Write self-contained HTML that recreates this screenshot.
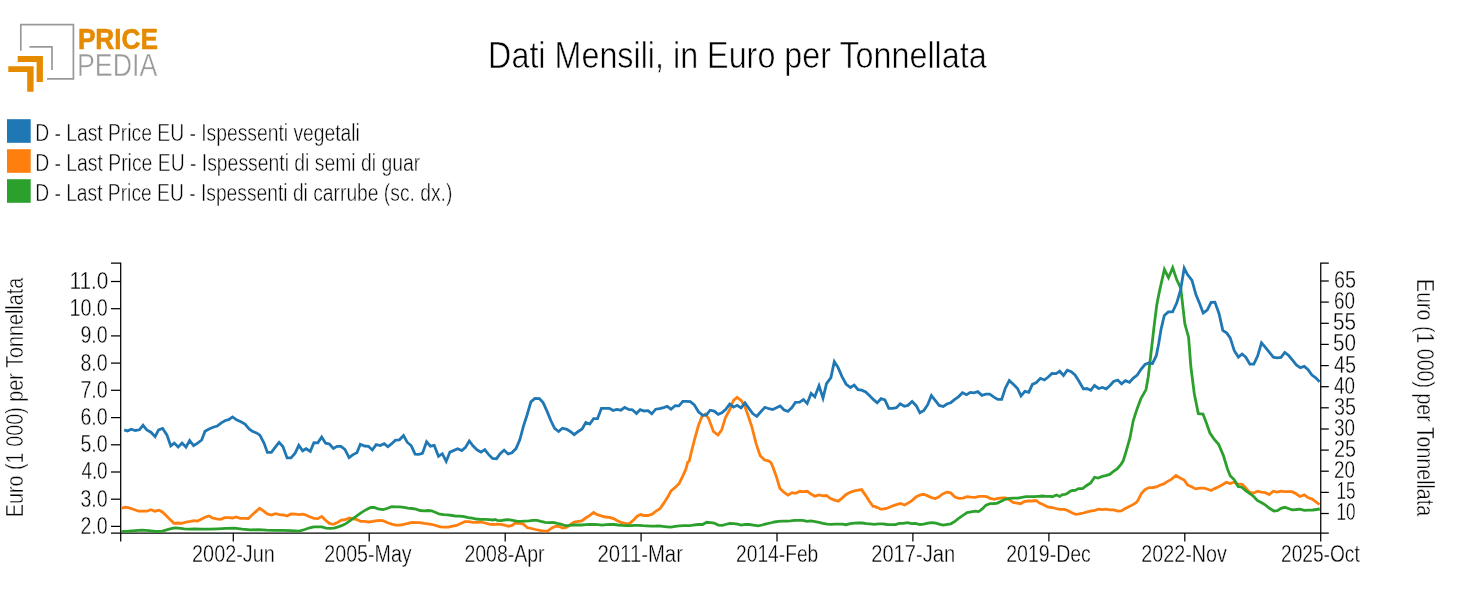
<!DOCTYPE html><html><head><meta charset="utf-8"><style>html,body{margin:0;padding:0;background:#fff;overflow:hidden;}svg{display:block;will-change:transform;}text{font-family:"Liberation Sans",sans-serif;}</style></head><body>
<svg width="1477" height="615" viewBox="0 0 1477 615">
<rect width="1477" height="615" fill="#fff"/>
<path d="M20.8,50.7 V24.7 H73.4 V78.8 H47" fill="none" stroke="#999999" stroke-width="1.7"/>
<path d="M29.4,46.8 H52 V69.9" fill="none" stroke="#999999" stroke-width="1.7"/>
<path d="M17.7,56 H42.9 V82 H36.6 V62 H17.7 Z" fill="#e68a00"/>
<path d="M8.3,66.2 H33.6 V91.7 H27.2 V72 H8.3 Z" fill="#e68a00"/>
<rect x="7" y="119.2" width="23.7" height="23.6" fill="#1f77b4"/>
<rect x="7" y="149.2" width="23.7" height="23.6" fill="#ff7f0e"/>
<rect x="7" y="179.2" width="23.7" height="23.6" fill="#2ca02c"/>
<text id="PRICE" x="77.90" y="49.0" font-size="29.3" font-weight="bold" fill="#e68a00" stroke="#e68a00" stroke-width="0.6" stroke-linejoin="round" textLength="80.11" lengthAdjust="spacingAndGlyphs">PRICE</text>
<text id="PEDIA" x="76.90" y="75.5" font-size="30.5" font-weight="normal" fill="#9a9a9a" stroke="#fff" stroke-width="0.4" stroke-linejoin="round" textLength="80.43" lengthAdjust="spacingAndGlyphs">PEDIA</text>
<text id="title" x="488.10" y="67.9" font-size="37.6" font-weight="normal" fill="#000" stroke="#fff" stroke-width="0.6" stroke-linejoin="round" textLength="498.58" lengthAdjust="spacingAndGlyphs">Dati Mensili, in Euro per Tonnellata</text>
<text id="leg0" x="35.15" y="141.2" font-size="23.0" font-weight="normal" fill="#000" stroke="#fff" stroke-width="0.45" stroke-linejoin="round" textLength="324.73" lengthAdjust="spacingAndGlyphs">D - Last Price EU - Ispessenti vegetali</text>
<text id="leg1" x="35.15" y="171.2" font-size="23.0" font-weight="normal" fill="#000" stroke="#fff" stroke-width="0.45" stroke-linejoin="round" textLength="385.01" lengthAdjust="spacingAndGlyphs">D - Last Price EU - Ispessenti di semi di guar</text>
<text id="leg2" x="35.15" y="201.2" font-size="23.0" font-weight="normal" fill="#000" stroke="#fff" stroke-width="0.45" stroke-linejoin="round" textLength="417.16" lengthAdjust="spacingAndGlyphs">D - Last Price EU - Ispessenti di carrube (sc. dx.)</text>
<text id="yl2" x="80.40" y="533.8" font-size="23.0" font-weight="normal" fill="#000" stroke="#fff" stroke-width="0.35" stroke-linejoin="round" textLength="27.23" lengthAdjust="spacingAndGlyphs">2.0</text>
<text id="yl3" x="80.40" y="506.6" font-size="23.0" font-weight="normal" fill="#000" stroke="#fff" stroke-width="0.35" stroke-linejoin="round" textLength="27.23" lengthAdjust="spacingAndGlyphs">3.0</text>
<text id="yl4" x="81.40" y="479.4" font-size="23.0" font-weight="normal" fill="#000" stroke="#fff" stroke-width="0.35" stroke-linejoin="round" textLength="26.23" lengthAdjust="spacingAndGlyphs">4.0</text>
<text id="yl5" x="80.40" y="452.2" font-size="23.0" font-weight="normal" fill="#000" stroke="#fff" stroke-width="0.35" stroke-linejoin="round" textLength="27.23" lengthAdjust="spacingAndGlyphs">5.0</text>
<text id="yl6" x="80.40" y="425.0" font-size="23.0" font-weight="normal" fill="#000" stroke="#fff" stroke-width="0.35" stroke-linejoin="round" textLength="27.23" lengthAdjust="spacingAndGlyphs">6.0</text>
<text id="yl7" x="80.40" y="397.7" font-size="23.0" font-weight="normal" fill="#000" stroke="#fff" stroke-width="0.35" stroke-linejoin="round" textLength="27.23" lengthAdjust="spacingAndGlyphs">7.0</text>
<text id="yl8" x="80.40" y="370.5" font-size="23.0" font-weight="normal" fill="#000" stroke="#fff" stroke-width="0.35" stroke-linejoin="round" textLength="27.23" lengthAdjust="spacingAndGlyphs">8.0</text>
<text id="yl9" x="80.40" y="343.3" font-size="23.0" font-weight="normal" fill="#000" stroke="#fff" stroke-width="0.35" stroke-linejoin="round" textLength="27.23" lengthAdjust="spacingAndGlyphs">9.0</text>
<text id="yl10" x="69.40" y="316.1" font-size="23.0" font-weight="normal" fill="#000" stroke="#fff" stroke-width="0.35" stroke-linejoin="round" textLength="38.45" lengthAdjust="spacingAndGlyphs">10.0</text>
<text id="yl11" x="69.40" y="288.9" font-size="23.0" font-weight="normal" fill="#000" stroke="#fff" stroke-width="0.35" stroke-linejoin="round" textLength="38.95" lengthAdjust="spacingAndGlyphs">11.0</text>
<text id="yr10" x="1336.60" y="520.4" font-size="23.0" font-weight="normal" fill="#000" stroke="#fff" stroke-width="0.35" stroke-linejoin="round" textLength="19.03" lengthAdjust="spacingAndGlyphs">10</text>
<text id="yr15" x="1336.60" y="499.3" font-size="23.0" font-weight="normal" fill="#000" stroke="#fff" stroke-width="0.35" stroke-linejoin="round" textLength="19.03" lengthAdjust="spacingAndGlyphs">15</text>
<text id="yr20" x="1334.10" y="478.1" font-size="23.0" font-weight="normal" fill="#000" stroke="#fff" stroke-width="0.35" stroke-linejoin="round" textLength="21.03" lengthAdjust="spacingAndGlyphs">20</text>
<text id="yr25" x="1334.10" y="457.0" font-size="23.0" font-weight="normal" fill="#000" stroke="#fff" stroke-width="0.35" stroke-linejoin="round" textLength="22.03" lengthAdjust="spacingAndGlyphs">25</text>
<text id="yr30" x="1334.10" y="435.9" font-size="23.0" font-weight="normal" fill="#000" stroke="#fff" stroke-width="0.35" stroke-linejoin="round" textLength="21.03" lengthAdjust="spacingAndGlyphs">30</text>
<text id="yr35" x="1334.10" y="414.7" font-size="23.0" font-weight="normal" fill="#000" stroke="#fff" stroke-width="0.35" stroke-linejoin="round" textLength="22.03" lengthAdjust="spacingAndGlyphs">35</text>
<text id="yr40" x="1334.10" y="393.6" font-size="23.0" font-weight="normal" fill="#000" stroke="#fff" stroke-width="0.35" stroke-linejoin="round" textLength="21.03" lengthAdjust="spacingAndGlyphs">40</text>
<text id="yr45" x="1334.10" y="372.5" font-size="23.0" font-weight="normal" fill="#000" stroke="#fff" stroke-width="0.35" stroke-linejoin="round" textLength="22.03" lengthAdjust="spacingAndGlyphs">45</text>
<text id="yr50" x="1333.10" y="351.3" font-size="23.0" font-weight="normal" fill="#000" stroke="#fff" stroke-width="0.35" stroke-linejoin="round" textLength="23.03" lengthAdjust="spacingAndGlyphs">50</text>
<text id="yr55" x="1333.10" y="330.2" font-size="23.0" font-weight="normal" fill="#000" stroke="#fff" stroke-width="0.35" stroke-linejoin="round" textLength="23.03" lengthAdjust="spacingAndGlyphs">55</text>
<text id="yr60" x="1334.10" y="309.0" font-size="23.0" font-weight="normal" fill="#000" stroke="#fff" stroke-width="0.35" stroke-linejoin="round" textLength="21.03" lengthAdjust="spacingAndGlyphs">60</text>
<text id="yr65" x="1334.10" y="287.9" font-size="23.0" font-weight="normal" fill="#000" stroke="#fff" stroke-width="0.35" stroke-linejoin="round" textLength="22.03" lengthAdjust="spacingAndGlyphs">65</text>
<text id="x2002-Jun" x="192.10" y="561.8" font-size="23.0" font-weight="normal" fill="#000" stroke="#fff" stroke-width="0.35" stroke-linejoin="round" textLength="82.71" lengthAdjust="spacingAndGlyphs">2002-Jun</text>
<text id="x2005-May" x="324.30" y="561.8" font-size="23.0" font-weight="normal" fill="#000" stroke="#fff" stroke-width="0.35" stroke-linejoin="round" textLength="87.33" lengthAdjust="spacingAndGlyphs">2005-May</text>
<text id="x2008-Apr" x="464.40" y="561.8" font-size="23.0" font-weight="normal" fill="#000" stroke="#fff" stroke-width="0.35" stroke-linejoin="round" textLength="80.17" lengthAdjust="spacingAndGlyphs">2008-Apr</text>
<text id="x2011-Mar" x="597.50" y="561.8" font-size="23.0" font-weight="normal" fill="#000" stroke="#fff" stroke-width="0.35" stroke-linejoin="round" textLength="85.43" lengthAdjust="spacingAndGlyphs">2011-Mar</text>
<text id="x2014-Feb" x="736.10" y="561.8" font-size="23.0" font-weight="normal" fill="#000" stroke="#fff" stroke-width="0.35" stroke-linejoin="round" textLength="82.16" lengthAdjust="spacingAndGlyphs">2014-Feb</text>
<text id="x2017-Jan" x="871.20" y="561.8" font-size="23.0" font-weight="normal" fill="#000" stroke="#fff" stroke-width="0.35" stroke-linejoin="round" textLength="83.91" lengthAdjust="spacingAndGlyphs">2017-Jan</text>
<text id="x2019-Dec" x="1006.20" y="561.8" font-size="23.0" font-weight="normal" fill="#000" stroke="#fff" stroke-width="0.35" stroke-linejoin="round" textLength="84.68" lengthAdjust="spacingAndGlyphs">2019-Dec</text>
<text id="x2022-Nov" x="1141.30" y="561.8" font-size="23.0" font-weight="normal" fill="#000" stroke="#fff" stroke-width="0.35" stroke-linejoin="round" textLength="85.48" lengthAdjust="spacingAndGlyphs">2022-Nov</text>
<text id="x2025-Oct" x="1281.00" y="561.8" font-size="23.0" font-weight="normal" fill="#000" stroke="#fff" stroke-width="0.35" stroke-linejoin="round" textLength="78.77" lengthAdjust="spacingAndGlyphs">2025-Oct</text>
<g stroke="#000" stroke-width="1.25" fill="none">
<path d="M111,263 H120.7 V533.1 H111"/>
<path d="M1328.8,263 H1320.75 V533.1 H1328.8"/>
<path d="M120.7,533.1 H1320.75"/>
<path d="M111,526.4 H120.7"/>
<path d="M111,499.2 H120.7"/>
<path d="M111,472.0 H120.7"/>
<path d="M111,444.8 H120.7"/>
<path d="M111,417.6 H120.7"/>
<path d="M111,390.3 H120.7"/>
<path d="M111,363.1 H120.7"/>
<path d="M111,335.9 H120.7"/>
<path d="M111,308.7 H120.7"/>
<path d="M111,281.5 H120.7"/>
<path d="M1320.75,513.5 H1328.8"/>
<path d="M1320.75,492.4 H1328.8"/>
<path d="M1320.75,471.2 H1328.8"/>
<path d="M1320.75,450.1 H1328.8"/>
<path d="M1320.75,429.0 H1328.8"/>
<path d="M1320.75,407.8 H1328.8"/>
<path d="M1320.75,386.7 H1328.8"/>
<path d="M1320.75,365.6 H1328.8"/>
<path d="M1320.75,344.4 H1328.8"/>
<path d="M1320.75,323.3 H1328.8"/>
<path d="M1320.75,302.1 H1328.8"/>
<path d="M1320.75,281.0 H1328.8"/>
<path d="M120.7,533 V541.6"/>
<path d="M233.3,533 V541.6"/>
<path d="M369.2,533 V541.6"/>
<path d="M505.2,533 V541.6"/>
<path d="M641.1,533 V541.6"/>
<path d="M777.0,533 V541.6"/>
<path d="M912.9,533 V541.6"/>
<path d="M1048.9,533 V541.6"/>
<path d="M1184.8,533 V541.6"/>
<path d="M1320.7,533 V541.6"/>
</g>
<g font-size="23" fill="#000" stroke="#fff" stroke-width="0.45" stroke-linejoin="round">
<text transform="translate(23.3,397.5) rotate(-90)" text-anchor="middle" textLength="239.6" lengthAdjust="spacingAndGlyphs">Euro (1 000) per Tonnellata</text>
<text transform="translate(1416.7,397.6) rotate(90)" text-anchor="middle" textLength="237.0" lengthAdjust="spacingAndGlyphs">Euro (1 000) per Tonnellata</text>
</g>
<path d="M121.4,508.1 L125.8,507.1 L129.9,508.1 L134.6,509.8 L138.7,511.2 L142.8,511.2 L146.8,511.2 L150.9,509.8 L154.9,511.2 L159.0,510.2 L162.4,511.9 L165.8,515.3 L169.8,519.3 L173.9,523.3 L178.0,523.0 L182.0,523.4 L186.1,522.0 L190.2,521.4 L194.2,520.7 L197.6,521.1 L201.7,518.9 L205.5,517.0 L209.1,516.0 L212.5,518.0 L216.6,518.9 L220.6,519.3 L224.7,517.6 L228.7,517.6 L232.8,518.0 L236.2,517.0 L240.3,518.4 L244.3,518.4 L248.4,518.5 L251.8,515.3 L255.8,511.6 L259.6,508.3 L263.7,511.2 L267.3,513.9 L271.4,515.0 L275.5,513.6 L279.5,514.6 L283.6,515.0 L287.0,516.1 L291.0,513.9 L295.1,514.2 L299.2,514.6 L302.5,514.2 L305.4,514.8 L309.6,516.8 L314.0,518.4 L317.9,518.6 L321.7,516.4 L325.3,520.0 L329.4,523.4 L333.4,524.3 L337.5,522.4 L341.3,520.0 L345.4,519.7 L349.4,518.0 L353.5,518.9 L357.1,519.7 L360.8,521.4 L364.6,521.4 L368.6,522.0 L372.7,521.4 L376.8,520.7 L380.2,520.4 L383.5,520.9 L387.6,522.7 L391.7,524.1 L395.7,525.1 L399.8,525.1 L403.8,524.3 L407.9,523.4 L412.0,522.4 L416.0,522.7 L420.1,522.7 L424.2,523.4 L428.2,523.8 L432.3,524.5 L436.3,525.7 L440.4,526.8 L444.5,527.2 L448.5,527.2 L452.6,526.1 L456.7,525.4 L460.7,523.4 L464.8,521.6 L468.8,521.6 L472.9,522.3 L477.0,522.3 L481.0,522.0 L485.1,523.0 L489.2,524.1 L493.2,524.5 L495.0,524.3 L497.3,524.1 L500.9,524.3 L504.5,525.1 L508.5,526.4 L511.9,525.4 L515.3,523.0 L519.4,523.4 L523.4,524.1 L527.5,527.7 L531.6,528.5 L535.6,529.5 L539.7,530.4 L543.7,531.1 L547.8,530.8 L551.9,527.9 L555.9,526.1 L559.3,526.5 L562.7,528.1 L566.8,527.2 L570.2,524.7 L574.2,522.0 L578.3,521.4 L581.7,520.9 L585.7,518.0 L589.8,515.3 L593.6,512.5 L597.2,514.6 L601.3,515.9 L605.4,517.0 L609.4,517.3 L613.5,518.6 L617.5,520.7 L621.6,522.7 L625.7,523.7 L629.7,523.4 L633.8,519.7 L637.2,516.2 L640.6,514.6 L644.0,515.5 L648.0,515.5 L652.1,514.2 L656.1,511.2 L660.2,508.5 L664.3,502.4 L668.3,496.0 L671.0,490.9 L675.1,487.5 L679.2,483.4 L682.5,476.7 L685.9,469.2 L687.8,461.9 L689.2,461.1 L691.1,453.1 L694.5,439.6 L698.3,426.0 L701.9,416.6 L705.3,414.2 L708.7,418.6 L713.4,431.5 L717.9,435.1 L721.6,430.1 L725.6,417.2 L729.7,409.8 L733.5,400.3 L737.1,397.4 L740.9,400.3 L744.6,405.7 L748.0,415.2 L752.0,427.4 L756.1,443.6 L760.2,455.8 L764.6,460.0 L768.5,460.9 L771.0,462.6 L772.7,466.5 L776.4,476.7 L779.8,488.2 L783.8,492.2 L787.9,495.1 L792.0,492.7 L795.8,493.3 L799.8,491.3 L803.5,491.6 L807.3,491.3 L810.9,494.0 L815.0,496.2 L819.1,494.9 L823.1,495.9 L826.5,495.5 L830.6,498.6 L834.6,500.1 L838.3,501.2 L842.1,498.1 L846.1,494.5 L850.2,492.2 L854.3,490.9 L858.3,490.2 L861.6,489.6 L865.8,495.6 L869.2,501.0 L873.0,506.4 L875.0,506.3 L876.6,507.4 L878.4,507.8 L880.7,509.2 L882.4,509.2 L886.5,508.5 L890.6,506.7 L894.0,505.4 L897.3,504.4 L900.7,503.5 L904.5,505.0 L908.2,503.1 L912.2,500.4 L916.3,496.6 L920.4,494.9 L923.7,494.3 L927.8,495.9 L931.6,497.7 L935.3,498.6 L938.6,497.0 L942.7,493.9 L946.8,492.2 L950.8,492.9 L954.9,497.0 L959.0,498.3 L963.0,498.1 L967.1,496.6 L971.1,497.2 L975.2,497.4 L979.3,496.3 L983.3,496.3 L986.7,496.7 L990.1,498.3 L994.2,499.3 L998.2,498.3 L1002.3,497.9 L1005.7,497.9 L1009.1,499.7 L1013.1,502.4 L1017.2,503.1 L1020.6,503.7 L1024.0,501.7 L1028.0,501.0 L1032.1,501.0 L1036.1,500.5 L1039.5,503.1 L1043.6,504.7 L1047.6,506.9 L1051.7,507.5 L1055.8,508.5 L1059.8,509.4 L1064.5,509.4 L1068.2,510.8 L1071.9,512.8 L1075.6,514.3 L1079.2,513.9 L1083.3,513.0 L1087.3,511.9 L1091.4,510.9 L1094.8,510.3 L1098.6,509.2 L1102.2,509.6 L1105.6,509.2 L1109.7,509.9 L1113.7,509.9 L1117.8,511.2 L1121.2,510.9 L1125.3,508.5 L1129.3,506.5 L1133.4,504.4 L1136.8,502.1 L1138.8,498.7 L1141.5,493.3 L1144.9,489.7 L1149.0,487.6 L1153.0,487.5 L1156.4,487.0 L1159.8,485.2 L1163.8,483.9 L1167.2,481.6 L1171.3,479.4 L1176.0,475.5 L1180.1,478.0 L1184.2,480.1 L1187.5,484.9 L1191.6,486.8 L1195.7,488.9 L1199.7,488.2 L1203.8,488.2 L1207.2,489.0 L1211.0,490.5 L1214.6,488.6 L1218.7,486.8 L1222.8,484.5 L1226.4,482.3 L1230.2,483.5 L1233.6,482.3 L1237.6,483.9 L1242.1,484.3 L1245.8,487.9 L1249.2,492.0 L1253.2,493.2 L1257.6,491.2 L1261.4,492.2 L1265.2,492.7 L1269.3,494.6 L1273.2,491.2 L1276.8,492.1 L1281.1,491.1 L1284.8,491.7 L1288.4,491.7 L1292.1,491.7 L1295.7,493.5 L1300.0,496.5 L1304.3,494.9 L1307.9,497.6 L1312.2,499.1 L1315.9,501.8 L1319.5,504.5" fill="none" stroke="#ff7f0e" stroke-width="2.8" stroke-linejoin="miter" stroke-miterlimit="4" stroke-linecap="butt"/>
<path d="M121.4,531.4 L128.5,531.1 L135.3,530.6 L142.1,530.2 L148.9,530.6 L155.6,531.5 L162.4,531.1 L169.2,529.2 L174.6,527.9 L178.6,528.1 L184.1,528.8 L189.5,529.2 L194.9,528.8 L201.7,529.2 L209.8,529.1 L217.9,528.8 L226.0,528.4 L234.2,528.1 L242.3,529.1 L250.4,529.9 L258.5,529.7 L266.7,530.2 L274.8,530.4 L282.9,530.4 L291.0,530.6 L299.2,531.1 L304.8,529.5 L309.6,527.8 L313.8,526.8 L317.9,526.8 L321.9,526.8 L326.0,528.1 L330.1,528.4 L334.1,528.1 L338.2,526.8 L342.2,525.4 L346.3,523.4 L350.4,520.4 L354.4,517.6 L358.5,514.6 L362.5,511.9 L366.6,509.4 L370.7,507.5 L374.1,507.5 L378.1,508.8 L382.9,509.6 L386.9,508.5 L391.7,506.7 L395.7,506.9 L399.8,506.9 L403.8,507.4 L407.9,508.1 L412.0,508.5 L416.0,509.2 L420.1,510.5 L424.2,510.9 L428.2,510.5 L431.6,510.8 L435.7,512.5 L439.7,514.2 L443.8,514.6 L447.9,514.9 L451.9,515.5 L456.0,516.2 L460.0,516.2 L464.1,516.6 L468.2,517.6 L472.2,518.2 L476.3,519.0 L480.4,519.3 L485.1,519.3 L489.2,519.6 L493.2,520.0 L495.0,519.4 L497.3,520.3 L500.9,520.6 L504.5,520.0 L508.5,519.6 L512.6,520.3 L516.7,521.1 L520.7,521.4 L524.8,521.1 L528.9,520.9 L532.9,520.4 L537.0,520.3 L541.0,521.4 L545.1,522.3 L549.2,522.7 L553.2,522.3 L557.3,523.4 L561.4,524.3 L565.4,525.7 L569.5,525.4 L573.5,525.0 L577.6,525.0 L581.7,525.0 L585.7,524.7 L589.8,524.5 L593.8,524.5 L597.9,524.7 L602.0,525.1 L606.0,524.7 L610.1,524.5 L614.2,524.5 L618.2,525.0 L622.3,525.4 L626.3,525.7 L630.4,525.7 L634.5,525.4 L638.5,525.4 L642.6,525.7 L646.7,525.8 L650.7,526.1 L654.8,526.1 L658.8,525.8 L662.9,526.4 L667.0,526.8 L671.0,527.2 L675.1,526.4 L679.2,525.8 L683.2,525.7 L685.0,525.7 L687.3,525.7 L689.1,525.7 L691.3,525.4 L693.1,525.1 L697.9,524.5 L702.6,524.5 L706.7,522.3 L710.7,522.7 L714.1,523.1 L718.2,525.1 L722.2,525.4 L725.6,524.5 L729.7,523.4 L733.7,523.7 L737.8,524.1 L741.2,525.1 L745.3,524.3 L749.3,524.5 L753.4,525.1 L758.1,525.8 L762.2,525.0 L766.2,523.8 L770.3,523.0 L774.4,522.0 L778.4,521.4 L782.5,521.1 L786.6,521.1 L790.6,520.9 L794.7,520.4 L798.7,520.4 L802.8,520.4 L806.9,521.4 L810.9,520.9 L815.0,521.6 L819.1,522.3 L823.1,523.4 L827.2,524.1 L831.2,524.3 L835.3,524.1 L839.4,524.1 L842.1,524.1 L846.1,524.7 L850.2,523.7 L854.3,523.1 L858.3,523.0 L862.4,523.0 L866.4,523.7 L869.8,523.8 L874.5,524.3 L878.5,523.8 L882.5,523.8 L887.2,524.5 L891.2,524.7 L895.3,524.7 L899.4,523.4 L903.4,523.4 L907.5,522.7 L911.6,523.7 L915.6,523.4 L919.7,524.5 L923.7,524.1 L927.8,523.1 L931.9,522.7 L935.9,523.1 L940.0,524.3 L943.4,525.1 L947.4,524.3 L950.8,523.8 L954.9,521.4 L959.0,518.0 L963.0,515.3 L967.1,512.5 L971.1,511.9 L975.2,511.2 L978.6,511.6 L982.0,509.2 L986.0,505.1 L990.1,503.7 L994.2,503.5 L997.5,503.1 L1001.6,501.0 L1005.7,499.0 L1009.7,498.3 L1013.8,498.1 L1017.9,498.1 L1021.9,497.4 L1026.0,496.7 L1030.0,496.7 L1034.1,496.6 L1038.2,496.3 L1042.2,496.0 L1046.3,496.3 L1050.4,496.3 L1052.4,496.7 L1056.4,495.0 L1059.8,496.5 L1062.5,494.5 L1065.0,494.3 L1067.2,493.5 L1070.5,491.1 L1072.7,490.5 L1075.2,490.4 L1078.5,488.6 L1082.6,488.6 L1086.7,485.5 L1090.7,482.9 L1094.6,477.2 L1098.2,478.0 L1102.2,476.4 L1105.6,475.7 L1109.7,474.4 L1113.1,471.7 L1117.1,469.0 L1121.2,464.1 L1123.2,460.8 L1125.9,452.2 L1129.9,438.2 L1133.3,420.6 L1136.8,409.6 L1140.8,398.9 L1146.0,389.6 L1148.3,376.5 L1151.7,347.0 L1154.4,323.6 L1156.8,304.7 L1159.5,291.1 L1164.4,269.5 L1168.5,277.7 L1172.7,267.8 L1176.7,279.6 L1180.8,288.4 L1183.1,308.7 L1184.8,323.6 L1188.6,337.4 L1190.9,367.0 L1194.3,393.8 L1198.3,413.6 L1203.0,414.0 L1206.5,423.3 L1209.8,432.8 L1213.9,438.9 L1218.6,444.3 L1223.4,455.6 L1227.5,469.0 L1230.2,475.7 L1234.3,479.8 L1238.1,486.5 L1241.7,487.2 L1245.8,490.6 L1250.5,494.0 L1253.9,496.7 L1257.3,500.4 L1261.2,502.5 L1265.2,504.9 L1269.5,508.3 L1273.8,511.0 L1277.4,510.7 L1281.1,508.3 L1284.8,507.3 L1288.4,508.5 L1292.1,509.8 L1296.3,509.5 L1300.0,509.1 L1304.3,510.4 L1308.5,510.1 L1312.8,510.0 L1316.5,509.5 L1319.8,509.0" fill="none" stroke="#2ca02c" stroke-width="2.8" stroke-linejoin="miter" stroke-miterlimit="4" stroke-linecap="butt"/>
<path d="M124.2,429.9 L127.5,431.1 L131.2,429.2 L135.3,430.5 L139.4,429.8 L143.0,425.3 L146.8,429.9 L150.9,432.2 L155.1,436.6 L158.6,429.9 L162.6,428.4 L166.9,434.9 L170.7,446.0 L174.2,443.1 L178.2,447.1 L182.0,443.1 L186.0,447.1 L189.6,440.5 L193.6,445.7 L197.6,443.1 L201.7,440.0 L205.0,431.3 L209.1,429.1 L213.2,427.2 L217.2,426.1 L221.3,422.8 L225.4,420.5 L228.7,419.6 L232.5,416.9 L236.9,420.1 L240.9,421.8 L245.0,424.1 L249.1,428.9 L252.4,431.3 L256.5,432.9 L259.9,435.2 L264.0,443.1 L267.4,452.4 L271.4,452.4 L275.5,446.9 L279.1,442.4 L282.9,446.5 L287.1,457.9 L291.0,457.9 L295.1,453.2 L298.8,445.3 L302.6,450.8 L306.1,448.7 L310.3,451.4 L313.9,442.6 L317.8,442.8 L321.7,437.0 L325.6,443.2 L329.4,444.0 L333.4,448.5 L337.1,446.3 L340.9,446.4 L344.9,449.4 L349.1,457.6 L353.1,454.6 L356.9,452.8 L360.3,444.3 L364.6,446.0 L368.4,446.3 L372.3,450.0 L376.2,444.6 L380.2,445.5 L384.2,443.7 L387.9,446.8 L391.7,443.7 L395.5,440.2 L399.4,439.8 L403.5,435.5 L407.2,442.2 L411.3,445.8 L415.1,454.1 L418.7,454.4 L422.4,453.4 L426.6,441.8 L430.4,446.1 L434.2,445.3 L438.5,456.3 L442.3,453.7 L446.2,461.4 L449.9,452.1 L454.0,450.4 L457.7,448.8 L461.8,450.6 L465.5,447.4 L469.3,441.0 L473.2,446.0 L477.0,449.8 L481.0,452.2 L484.8,449.7 L488.5,454.4 L492.5,458.5 L496.5,458.7 L500.4,453.4 L504.1,450.1 L508.1,454.0 L511.9,452.7 L516.0,448.6 L519.8,439.8 L523.4,426.3 L527.2,414.5 L530.9,401.9 L534.9,398.5 L539.4,398.6 L543.1,402.6 L547.1,411.4 L550.8,420.5 L554.6,428.3 L558.6,431.5 L562.4,428.2 L566.8,429.4 L570.6,431.7 L574.2,434.6 L577.9,431.7 L582.1,429.0 L585.8,422.5 L589.7,424.1 L593.6,418.7 L597.5,418.7 L601.4,408.4 L605.4,408.3 L609.4,408.3 L613.1,410.4 L616.9,409.4 L620.9,410.2 L624.7,407.4 L628.6,409.4 L632.4,409.8 L636.5,413.5 L640.2,409.6 L644.0,411.0 L648.0,410.6 L651.8,413.8 L655.7,409.2 L659.5,408.7 L663.6,407.6 L667.2,406.4 L671.0,409.2 L675.1,405.7 L678.9,405.9 L682.8,401.3 L686.2,401.4 L690.4,401.6 L694.3,404.9 L698.5,411.8 L702.6,415.4 L706.4,414.9 L710.1,410.2 L714.1,411.1 L718.2,414.4 L721.8,412.9 L725.6,409.5 L729.7,404.1 L733.5,407.2 L737.1,405.3 L741.1,407.9 L745.0,402.9 L748.6,407.8 L752.7,413.6 L756.8,416.3 L760.8,411.8 L764.9,407.3 L769.0,408.7 L772.7,409.5 L776.4,407.8 L780.2,405.9 L783.8,409.8 L787.9,411.3 L791.7,407.8 L795.4,402.4 L799.7,402.1 L803.4,399.6 L807.2,403.5 L811.1,393.5 L814.8,396.8 L819.0,385.8 L823.0,398.2 L826.5,383.7 L830.9,377.6 L834.3,361.6 L837.9,367.1 L842.0,376.6 L846.0,384.0 L850.4,387.5 L854.2,385.0 L858.0,389.7 L861.6,390.1 L865.7,391.9 L869.7,395.8 L873.8,399.9 L877.2,402.9 L881.0,398.7 L884.9,399.9 L888.8,408.3 L892.8,408.4 L896.4,407.7 L900.2,403.8 L904.3,406.3 L907.9,405.4 L912.1,401.5 L916.2,405.7 L919.9,412.8 L923.9,410.4 L927.7,404.7 L931.4,395.6 L935.4,400.7 L939.2,405.4 L943.3,406.5 L946.9,404.0 L950.7,402.7 L954.8,399.3 L958.7,396.6 L962.5,392.7 L966.6,394.7 L970.3,392.4 L974.0,392.8 L977.8,391.6 L981.9,395.4 L985.8,394.2 L989.8,394.2 L993.9,397.1 L997.8,399.4 L1001.7,399.4 L1005.3,388.2 L1009.3,380.6 L1013.3,384.2 L1017.5,388.5 L1021.0,395.9 L1024.9,391.4 L1028.8,392.4 L1032.4,384.4 L1036.4,382.5 L1040.4,378.3 L1044.4,380.0 L1048.2,377.0 L1052.0,373.4 L1056.1,373.6 L1059.7,371.2 L1063.5,375.4 L1067.3,370.1 L1071.2,371.6 L1075.0,375.0 L1078.7,380.8 L1083.3,388.8 L1086.8,388.5 L1090.8,390.3 L1094.5,385.5 L1098.6,388.5 L1102.4,387.5 L1106.2,388.8 L1109.8,385.8 L1113.6,381.5 L1117.7,380.0 L1121.6,383.9 L1125.4,380.7 L1129.5,382.3 L1133.3,378.1 L1137.3,375.1 L1141.0,369.3 L1145.0,364.5 L1148.7,362.9 L1152.4,363.7 L1156.3,355.7 L1158.7,343.4 L1161.1,329.1 L1164.3,315.5 L1168.3,311.9 L1172.6,311.8 L1176.7,303.1 L1180.6,290.0 L1184.2,268.2 L1187.5,274.6 L1192.0,280.3 L1195.9,294.5 L1199.5,303.3 L1203.2,313.0 L1207.2,310.1 L1211.1,302.3 L1214.9,302.1 L1219.0,313.5 L1222.8,330.4 L1226.8,333.1 L1230.2,337.9 L1234.3,350.7 L1238.4,357.1 L1242.1,354.0 L1245.8,357.2 L1249.9,364.2 L1253.8,364.2 L1257.6,356.1 L1261.5,342.8 L1265.4,347.3 L1269.2,352.1 L1273.3,357.2 L1276.9,357.9 L1281.0,357.4 L1284.8,352.4 L1288.7,355.5 L1292.5,360.2 L1296.3,364.9 L1300.3,367.6 L1304.3,366.4 L1308.1,369.7 L1311.9,375.1 L1315.8,377.8 L1319.6,381.9" fill="none" stroke="#1f77b4" stroke-width="2.8" stroke-linejoin="miter" stroke-miterlimit="4" stroke-linecap="butt"/>
</svg></body></html>
